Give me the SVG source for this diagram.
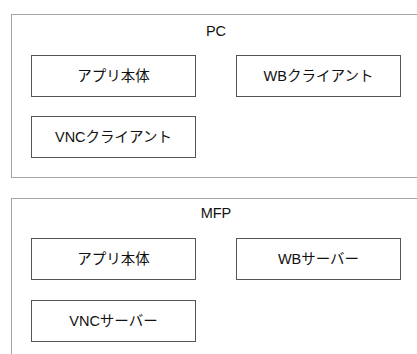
<svg xmlns="http://www.w3.org/2000/svg" width="417" height="354" viewBox="0 0 417 354">
<style>
.container{fill:#ffffff;stroke:#a6a6a6;stroke-width:1}
.box{fill:#ffffff;stroke:#555555;stroke-width:1}
text{font-family:"Liberation Sans","Noto Sans CJK JP",sans-serif;font-size:14.5px;fill:#111111;text-anchor:middle}
.lbl{dominant-baseline:central}
</style>
<rect width="417" height="354" fill="#ffffff"/>
<g id="pc">
<rect class="container" x="11.5" y="14.5" width="410" height="163"/>
<text x="216" y="36">PC</text>
</g>
<g id="pc-app">
<rect class="box" x="31.5" y="55.5" width="164" height="41"/>
<text class="lbl" x="113.5" y="76">アプリ本体</text>
</g>
<g id="pc-wb">
<rect class="box" x="236.5" y="55.5" width="164" height="41"/>
<text class="lbl" x="318.5" y="76">WBクライアント</text>
</g>
<g id="pc-vnc">
<rect class="box" x="31.5" y="116.5" width="164" height="41"/>
<text class="lbl" x="113.5" y="137">VNCクライアント</text>
</g>
<g id="mfp">
<rect class="container" x="11.5" y="198.5" width="410" height="170"/>
<text x="216" y="218">MFP</text>
</g>
<g id="mfp-app">
<rect class="box" x="31.5" y="238.5" width="164" height="41"/>
<text class="lbl" x="113.5" y="259">アプリ本体</text>
</g>
<g id="mfp-wb">
<rect class="box" x="236.5" y="238.5" width="164" height="41"/>
<text class="lbl" x="318.5" y="259">WBサーバー</text>
</g>
<g id="mfp-vnc">
<rect class="box" x="31.5" y="300.5" width="164" height="41"/>
<text class="lbl" x="113.5" y="321">VNCサーバー</text>
</g>
<g id="connectors"></g>
</svg>
